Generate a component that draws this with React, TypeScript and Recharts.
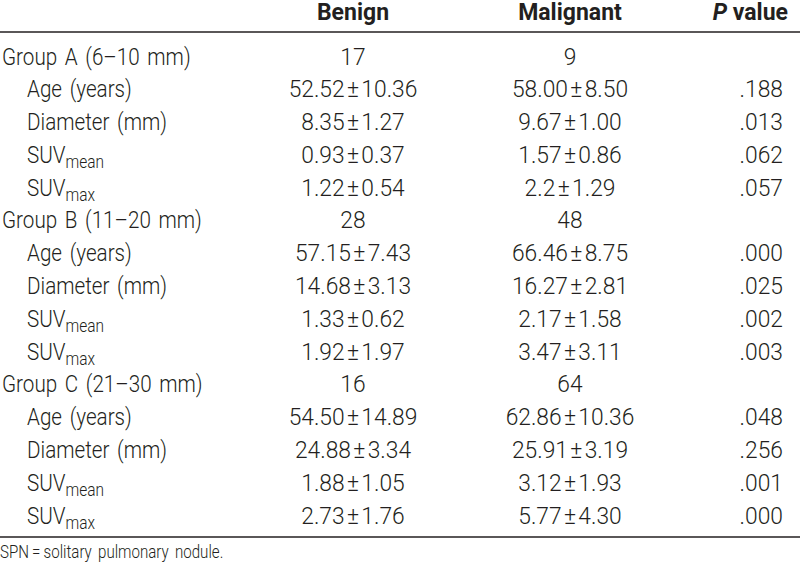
import React from 'react';
import { ComposedChart, Line, XAxis, YAxis, LabelList } from 'recharts';

// row labels, in table order ("|" marks a subscript)
const rowLabels = [
  'Group A (6–10 mm)',
  'Age (years)',
  'Diameter (mm)',
  'SUV|mean',
  'SUV|max',
  'Group B (11–20 mm)',
  'Age (years)',
  'Diameter (mm)',
  'SUV|mean',
  'SUV|max',
  'Group C (21–30 mm)',
  'Age (years)',
  'Diameter (mm)',
  'SUV|mean',
  'SUV|max',
];

const benignValues = [
  '17', '52.52±10.36', '8.35±1.27', '0.93±0.37', '1.22±0.54',
  '28', '57.15±7.43', '14.68±3.13', '1.33±0.62', '1.92±1.97',
  '16', '54.50±14.89', '24.88±3.34', '1.88±1.05', '2.73±1.76',
];

const malignantValues = [
  '9', '58.00±8.50', '9.67±1.00', '1.57±0.86', '2.2±1.29',
  '48', '66.46±8.75', '16.27±2.81', '2.17±1.58', '3.47±3.11',
  '64', '62.86±10.36', '25.91±3.19', '3.12±1.93', '5.77±4.30',
];

const pValues = [
  '', '.188', '.013', '.062', '.057',
  '', '.000', '.025', '.002', '.003',
  '', '.048', '.256', '.001', '.000',
];

const headerLabels = ['Benign', 'Malignant', 'P value'];
const footnote = 'SPN\u2009=\u2009solitary pulmonary nodule.';

const rows = rowLabels.map((label, i) => ({
  label,
  benign: benignValues[i],
  malignant: malignantValues[i],
  p: pValues[i],
  isGroup: label.startsWith('Group'),
}));

// column anchors on the 0..800 axis
const COL_BENIGN = 353;
const COL_MALIGNANT = 570;
const COL_P = 783;
const HEADER_TICKS = [353, 570, 788];
const HEADER_ANCHOR = ['middle', 'middle', 'end'];

const FONT = 'Roboto, "Noto Sans", sans-serif';
const INK = '#231f20';
const SIZE = 24;
const NARROW = 0.86; // the table face is a condensed one

const fmt = (s: string) => s.replace('±', '\u200a±\u200a');

const HeaderTick = (props: any) => {
  const { x, y, payload } = props;
  const i = payload.index;
  if (i === 2) {
    return (
      <text x={x} y={y - 4} textAnchor="end" fontFamily={FONT} fontSize={23} fontWeight="bold" fill={INK}>
        <tspan fontStyle="italic">P</tspan> value
      </text>
    );
  }
  return (
    <text x={x} y={y - 4} textAnchor={HEADER_ANCHOR[i]} fontFamily={FONT} fontSize={23} fontWeight="bold" fill={INK}>
      {headerLabels[i]}
    </text>
  );
};

const RowTick = (props: any) => {
  const { x, y, payload } = props;
  const row = rows[payload.index];
  const indent = row.isGroup ? -6 : 19;
  const [main, sub] = row.label.split('|');
  return (
    <text
      transform={`translate(${x + indent},${y + 8.5}) scale(${NARROW},1)`}
      textAnchor="start"
      fontFamily={FONT}
      fontSize={SIZE}
      fontWeight={300}
      fill={INK}
      wordSpacing={3}
    >
      {main}
      {sub && (
        <tspan fontSize={18} dy={5}>
          {sub}
        </tspan>
      )}
    </text>
  );
};

const cellLabel = (anchor: 'middle' | 'end') => (props: any) => {
  const { x, y, value } = props;
  if (!value) return null;
  return (
    <text
      transform={`translate(${x},${y + 8.5}) scale(0.95,1)`}
      textAnchor={anchor}
      fontFamily={FONT}
      fontSize={SIZE}
      fontWeight={300}
      fill={INK}
    >
      {fmt(String(value))}
    </text>
  );
};

const Footnote = (props: any) => {
  const { viewBox } = props;
  return (
    <text
      transform={`translate(${viewBox.x},${viewBox.y + 21}) scale(0.84,1)`}
      fontFamily={FONT}
      fontSize={18}
      fontWeight={300}
      fill={INK}
      wordSpacing={3}
    >
      {footnote}
    </text>
  );
};

export default function App() {
  return (
    <div style={{ position: 'absolute', left: 0, top: 0, width: 800, height: 576, background: '#fff' }}>
      <ComposedChart
        layout="vertical"
        width={800}
        height={576}
        data={rows}
        margin={{ top: 0, right: 0, bottom: 0, left: 0 }}
      >
        <XAxis
          xAxisId="top"
          type="number"
          orientation="top"
          domain={[0, 800]}
          height={32}
          ticks={HEADER_TICKS}
          tick={<HeaderTick />}
          tickLine={false}
          axisLine={{ stroke: INK, strokeWidth: 1.5 }}
          allowDataOverflow
        />
        <XAxis
          xAxisId="bottom"
          type="number"
          orientation="bottom"
          domain={[0, 800]}
          height={39}
          tick={false}
          tickLine={false}
          axisLine={{ stroke: INK, strokeWidth: 1.5 }}
          label={<Footnote />}
          allowDataOverflow
        />
        <YAxis
          type="category"
          dataKey="label"
          mirror
          axisLine={false}
          tickLine={false}
          tick={<RowTick />}
          interval={0}
          padding={{ top: 24, bottom: 22 }}
        />
        <Line xAxisId="top" dataKey={() => COL_BENIGN} stroke="none" dot={false} activeDot={false} isAnimationActive={false}>
          <LabelList dataKey="benign" content={cellLabel('middle')} />
        </Line>
        <Line xAxisId="top" dataKey={() => COL_MALIGNANT} stroke="none" dot={false} activeDot={false} isAnimationActive={false}>
          <LabelList dataKey="malignant" content={cellLabel('middle')} />
        </Line>
        <Line xAxisId="top" dataKey={() => COL_P} stroke="none" dot={false} activeDot={false} isAnimationActive={false}>
          <LabelList dataKey="p" content={cellLabel('end')} />
        </Line>
      </ComposedChart>
    </div>
  );
}
